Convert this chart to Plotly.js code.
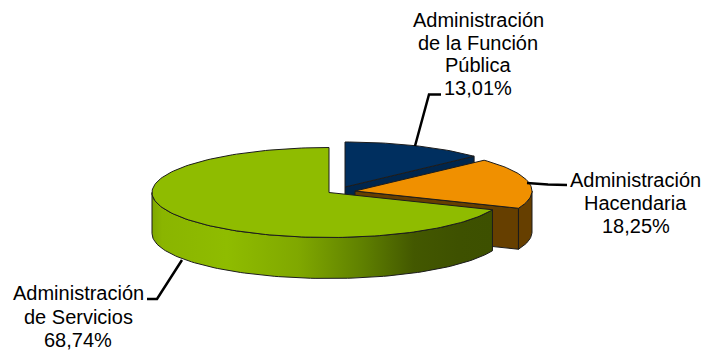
<!DOCTYPE html>
<html><head><meta charset="utf-8">
<script src="https://cdn.plot.ly/plotly-3.0.1.min.js"></script>
<style>html,body{margin:0;padding:0;background:#fff}#c{width:711px;height:352px}</style></head>
<body><div id="c"></div>
<script>
var categories = ["Administración de la Función Pública", "Administración Hacendaria", "Administración de Servicios"];
var labelLines = [["Administración","de la Función","Pública"],["Administración","Hacendaria"],["Administración","de Servicios"]];
var shares = [13.01, 18.25, 68.74];
var shareLabels = ["13,01%", "18,25%", "68,74%"];
var topColors = ["#002f5f", "#f09000", "#8fbc00"];
var wallColors = ["#00264d", "#663f00", "#8fbc00"];
var centerX = [345, 355, 329];
var centerY = [187, 191, 192.5];
var radiusX = 177, radiusY = 45, depth = 41;
var edge = "#1c1c1c";

var total = shares.reduce(function(a,b){return a+b;},0);
var bounds = [0];
shares.forEach(function(s){bounds.push(bounds[bounds.length-1] + s/total*360);});
function arc(i, a0, a1, dy){
  var xs=[], ys=[], n=Math.max(2,Math.ceil(Math.abs(a1-a0)/1.5));
  for(var k=0;k<=n;k++){
    var t=(a0+(a1-a0)*k/n)*Math.PI/180;
    xs.push(centerX[i]+radiusX*Math.sin(t));
    ys.push(centerY[i]-radiusY*Math.cos(t)+dy);
  }
  return {x:xs,y:ys};
}
function poly(xs,ys,color,extra){
  var t={x:xs,y:ys,mode:"lines",type:"scatter",fill:"toself",fillcolor:color,
    line:{color:edge,width:1},hoverinfo:"skip",showlegend:false};
  for(var k in (extra||{})) t[k]=extra[k];
  return t;
}
function topFace(i){
  var a=arc(i,bounds[i],bounds[i+1],0);
  return poly([centerX[i]].concat(a.x,[centerX[i]]),[centerY[i]].concat(a.y,[centerY[i]]),topColors[i]);
}
function outerWall(i,a0,a1,color,extra){
  var u=arc(i,a0,a1,0), l=arc(i,a1,a0,depth);
  return poly(u.x.concat(l.x,[u.x[0]]),u.y.concat(l.y,[u.y[0]]),color,extra);
}
function cutFace(i,ang,color){
  var p=arc(i,ang,ang,0);
  var ex=p.x[0],ey=p.y[0],cx=centerX[i],cy=centerY[i];
  return poly([cx,ex,ex,cx,cx],[cy,ey,ey+depth,cy+depth,cy],color);
}
var traces=[];
traces.push(cutFace(0,bounds[1],wallColors[0]));
traces.push(topFace(0));
traces.push(cutFace(1,bounds[2],wallColors[1]));
traces.push(outerWall(1,90,bounds[2],wallColors[1]));
traces.push(topFace(1));
var greenGrad={fill:"toself",fillgradient:{type:"horizontal",start:152,stop:492,colorscale:[
  [0,"#7fa800"],[0.03,"#8ab500"],[0.22,"#8fbc00"],[0.43,"#80a800"],[0.62,"#5f8000"],[0.77,"#435800"],[0.9,"#3e5100"],[1,"#3d5000"]]}};
traces.push(outerWall(2,bounds[2],270,"#8fbc00",greenGrad));
traces.push(topFace(2));
var leaders=[[[415,429,441],[146,94.5,94.5]],[[527,548,567],[183,184.5,185]],[[182,157,147],[260,299,299]]];
leaders.forEach(function(l){
  traces.push({x:l[0],y:l[1],mode:"lines",type:"scatter",line:{color:"#000",width:2.5},hoverinfo:"skip",showlegend:false});
});
var labelX=[478,635.5,78];
var labelY=[[19.5,42.5,65,88],[180,203,226],[293,316.5,339.5]];
var annotations=[];
categories.forEach(function(c,i){
  labelLines[i].concat([shareLabels[i]]).forEach(function(line,j){
    annotations.push({x:labelX[i],y:labelY[i][j],xref:"x",yref:"y",showarrow:false,xanchor:"center",yanchor:"middle",align:"center",
      text:line,font:{family:"Liberation Sans, Arial, sans-serif",size:20,color:"#000"}});
  });
});
Plotly.newPlot("c",traces,{
  width:711,height:352,margin:{l:0,r:0,t:0,b:0},paper_bgcolor:"#fff",plot_bgcolor:"#fff",showlegend:false,
  xaxis:{range:[0,711],visible:false,fixedrange:true},
  yaxis:{range:[352,0],visible:false,fixedrange:true},
  annotations:annotations
},{displayModeBar:false,staticPlot:true});
</script></body></html>
